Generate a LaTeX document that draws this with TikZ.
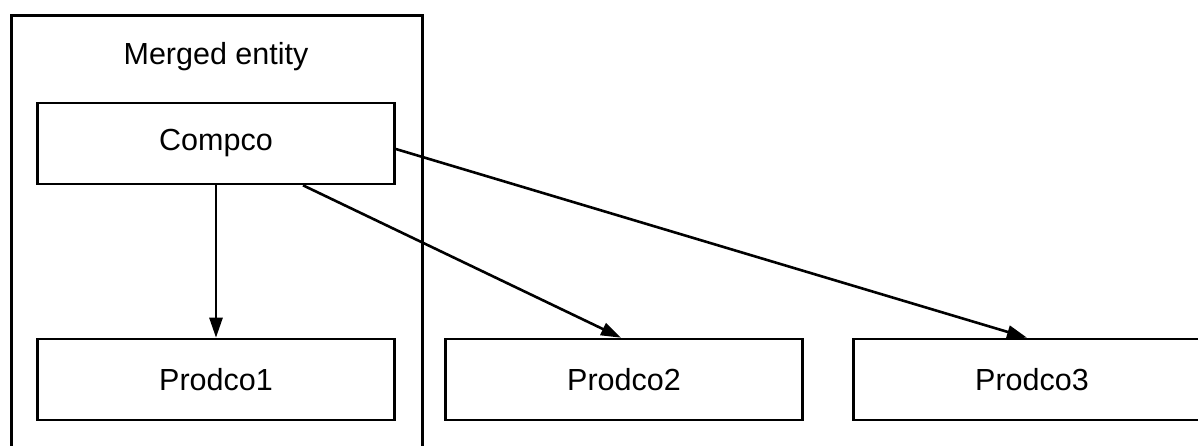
\documentclass[tikz,border=0pt]{standalone}
\usepackage{fontspec}
\setmainfont{Liberation Sans}
\usetikzlibrary{arrows.meta}
\begin{document}
\begin{tikzpicture}[x=1pt,y=-1pt,
  every node/.style={font=\fontsize{30.5}{36}\selectfont},
  boxnode/.style={draw, line width=2.6pt, inner sep=0pt, minimum width=357pt, minimum height=81pt},
  conn/.style={line width=2.6pt, -{Triangle[length=20pt,width=13pt]}}]
\useasboundingbox (0,0) rectangle (1198,445);
\clip (0,0) rectangle (1198,445);
\node[draw, line width=2.6pt, inner sep=0pt, minimum width=411pt, minimum height=470pt, anchor=north west] (outer) at (10,14) {};
\node (title) at (216,57) {Merged entity};
\node[boxnode] (compco) at (216,143.5) {Compco};
\node[boxnode] (p1) at (216,379.5) {Prodco1};
\node[boxnode] (p2) at (624,379.5) {Prodco2};
\node[boxnode] (p3) at (1032,379.5) {Prodco3};
\draw[conn] (compco.south) -- (p1.north);
\draw[conn] ([xshift=87pt]compco.south) -- ([xshift=-3pt]p2.north);
\draw[conn] ([yshift=-5.5pt]compco.east) -- ([xshift=-5pt]p3.north);
\end{tikzpicture}
\end{document}
